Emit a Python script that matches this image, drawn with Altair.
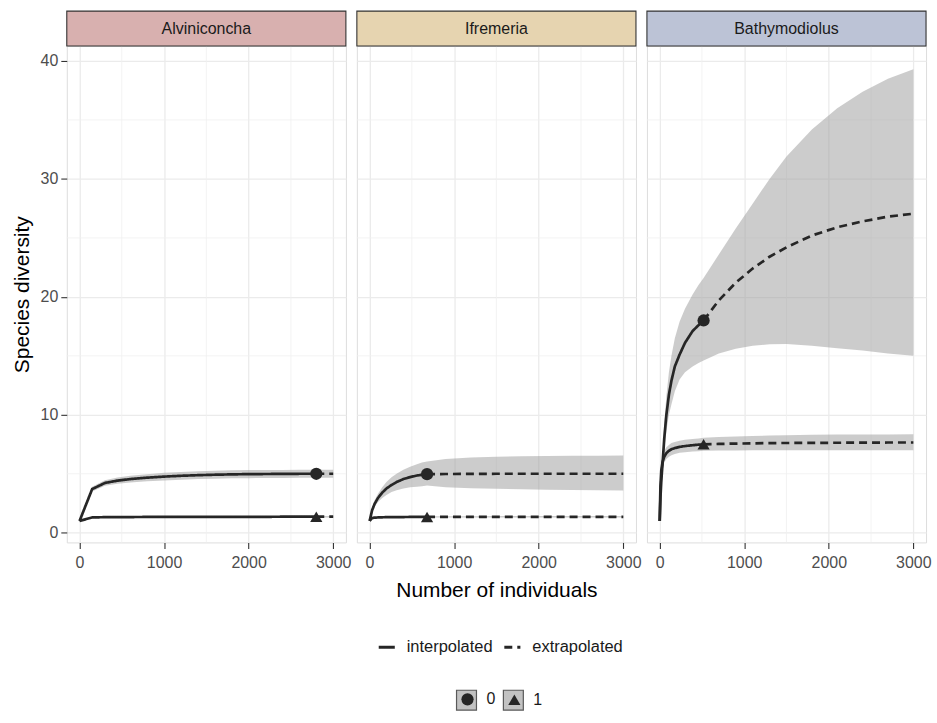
import altair as alt
import pandas as pd

# ---------------- data ----------------
SITES = ["Alviniconcha", "Ifremeria", "Bathymodiolus"]
STRIP_FILL = ["#d8b0af", "#e6d4b0", "#bcc3d6"]

x_major = [0, 1000, 2000, 3000]
x_minor = [500, 1500, 2500]
y_major = [0, 10, 20, 30, 40]
y_minor = [5, 15, 25, 35]
orders = ["0", "1"]
methods = ["interpolated", "extrapolated"]

# Alviniconcha
alv_m_int = [1, 150, 300, 450, 600, 800, 1000, 1200, 1400, 1600, 1800, 2000, 2200, 2400, 2600, 2800]
alv_q0_int = [1.0, 3.7, 4.22, 4.42, 4.55, 4.67, 4.76, 4.83, 4.88, 4.92, 4.95, 4.97, 4.98, 4.99, 5.0, 5.0]
alv_q0_int_lo = [1.0, 3.5, 3.98, 4.16, 4.27, 4.37, 4.44, 4.5, 4.55, 4.58, 4.61, 4.63, 4.64, 4.65, 4.66, 4.66]
alv_q0_int_hi = [1.0, 3.9, 4.46, 4.68, 4.83, 4.97, 5.08, 5.16, 5.21, 5.26, 5.29, 5.31, 5.32, 5.33, 5.34, 5.34]
alv_q1_int = [1.0, 1.3, 1.32, 1.33, 1.33, 1.34, 1.34, 1.34, 1.35, 1.35, 1.35, 1.35, 1.35, 1.36, 1.36, 1.36]
alv_q1_int_lo = [1.0, 1.24, 1.26, 1.27, 1.27, 1.28, 1.28, 1.28, 1.29, 1.29, 1.29, 1.29, 1.29, 1.3, 1.3, 1.3]
alv_q1_int_hi = [1.0, 1.36, 1.38, 1.39, 1.39, 1.4, 1.4, 1.4, 1.41, 1.41, 1.41, 1.41, 1.41, 1.42, 1.42, 1.42]
alv_m_ext = [2800, 2900, 3000]
alv_q0_ext = [5.0, 5.0, 5.0]
alv_q0_ext_lo = [4.66, 4.66, 4.66]
alv_q0_ext_hi = [5.34, 5.35, 5.35]
alv_q1_ext = [1.36, 1.36, 1.36]
alv_q1_ext_lo = [1.3, 1.3, 1.3]
alv_q1_ext_hi = [1.42, 1.42, 1.42]

# Ifremeria
ifr_m_int = [1, 30, 60, 100, 150, 200, 260, 320, 400, 480, 560, 620, 680]
ifr_q0_int = [1.0, 1.9, 2.45, 2.95, 3.4, 3.75, 4.05, 4.3, 4.55, 4.72, 4.85, 4.92, 4.97]
ifr_q0_int_lo = [1.0, 1.7, 2.2, 2.6, 2.95, 3.2, 3.45, 3.6, 3.75, 3.85, 3.9, 3.95, 4.0]
ifr_q0_int_hi = [1.0, 2.1, 2.75, 3.3, 3.85, 4.3, 4.7, 5.0, 5.35, 5.6, 5.8, 5.95, 6.05]
ifr_q1_int = [1.0, 1.25, 1.28, 1.3, 1.31, 1.32, 1.32, 1.33, 1.33, 1.34, 1.34, 1.34, 1.34]
ifr_q1_int_lo = [1.0, 1.2, 1.23, 1.25, 1.26, 1.27, 1.27, 1.28, 1.28, 1.29, 1.29, 1.29, 1.29]
ifr_q1_int_hi = [1.0, 1.3, 1.33, 1.35, 1.36, 1.37, 1.37, 1.38, 1.38, 1.39, 1.39, 1.39, 1.39]
ifr_m_ext = [680, 900, 1200, 1500, 1800, 2100, 2400, 2700, 3000]
ifr_q0_ext = [4.97, 4.98, 4.99, 5.0, 5.0, 5.0, 5.0, 5.0, 5.0]
ifr_q0_ext_lo = [4.0, 3.85, 3.77, 3.73, 3.68, 3.65, 3.62, 3.6, 3.58]
ifr_q0_ext_hi = [6.05, 6.25, 6.38, 6.45, 6.48, 6.5, 6.52, 6.53, 6.54]
ifr_q1_ext = [1.34, 1.34, 1.35, 1.35, 1.35, 1.35, 1.35, 1.35, 1.35]
ifr_q1_ext_lo = [1.29, 1.29, 1.29, 1.29, 1.29, 1.29, 1.29, 1.29, 1.29]
ifr_q1_ext_hi = [1.39, 1.4, 1.4, 1.41, 1.41, 1.41, 1.41, 1.41, 1.41]

# Bathymodiolus
bat_m_int = [1, 10, 20, 35, 55, 80, 110, 140, 180, 236, 300, 390, 460, 520]
bat_q0_int = [1.0, 3.0, 4.4, 5.9, 8.0, 10.0, 11.7, 12.9, 14.1, 15.1, 16.1, 17.1, 17.6, 18.0]
bat_q0_int_lo = [1.0, 2.8, 4.0, 5.3, 7.0, 8.6, 10.0, 10.9, 12.0, 13.0, 13.6, 14.1, 14.4, 14.6]
bat_q0_int_hi = [1.0, 3.3, 5.0, 6.8, 9.2, 11.6, 13.6, 15.0, 16.5, 17.9, 19.0, 20.2, 21.0, 21.6]
bat_q1_int = [1.0, 4.0, 5.3, 6.0, 6.45, 6.75, 6.95, 7.08, 7.18, 7.28, 7.35, 7.42, 7.47, 7.5]
bat_q1_int_lo = [1.0, 3.6, 4.8, 5.5, 5.95, 6.25, 6.45, 6.58, 6.68, 6.78, 6.83, 6.88, 6.92, 6.95]
bat_q1_int_hi = [1.0, 4.4, 5.8, 6.5, 6.95, 7.25, 7.45, 7.6, 7.7, 7.8, 7.88, 7.95, 8.0, 8.05]
bat_m_ext = [520, 700, 900, 1100, 1300, 1500, 1800, 2100, 2400, 2700, 3000]
bat_q0_ext = [18.0, 19.7, 21.2, 22.4, 23.4, 24.2, 25.2, 25.9, 26.4, 26.8, 27.05]
bat_q0_ext_lo = [14.6, 15.2, 15.6, 15.85, 15.98, 16.0, 15.85, 15.65, 15.45, 15.2, 15.0]
bat_q0_ext_hi = [21.6, 23.6, 25.8, 27.9, 30.0, 31.9, 34.2, 36.0, 37.4, 38.5, 39.3]
bat_q1_ext = [7.5, 7.53, 7.56, 7.58, 7.6, 7.61, 7.62, 7.63, 7.64, 7.65, 7.65]
bat_q1_ext_lo = [6.95, 6.97, 6.98, 6.99, 7.0, 7.0, 7.0, 7.0, 7.0, 7.0, 7.0]
bat_q1_ext_hi = [8.05, 8.12, 8.17, 8.21, 8.24, 8.27, 8.3, 8.32, 8.33, 8.34, 8.35]

SITE_DATA = {
    "Alviniconcha": (alv_m_int, alv_m_ext,
                     {"0": (alv_q0_int, alv_q0_int_lo, alv_q0_int_hi, alv_q0_ext, alv_q0_ext_lo, alv_q0_ext_hi),
                      "1": (alv_q1_int, alv_q1_int_lo, alv_q1_int_hi, alv_q1_ext, alv_q1_ext_lo, alv_q1_ext_hi)}),
    "Ifremeria": (ifr_m_int, ifr_m_ext,
                  {"0": (ifr_q0_int, ifr_q0_int_lo, ifr_q0_int_hi, ifr_q0_ext, ifr_q0_ext_lo, ifr_q0_ext_hi),
                   "1": (ifr_q1_int, ifr_q1_int_lo, ifr_q1_int_hi, ifr_q1_ext, ifr_q1_ext_lo, ifr_q1_ext_hi)}),
    "Bathymodiolus": (bat_m_int, bat_m_ext,
                      {"0": (bat_q0_int, bat_q0_int_lo, bat_q0_int_hi, bat_q0_ext, bat_q0_ext_lo, bat_q0_ext_hi),
                       "1": (bat_q1_int, bat_q1_int_lo, bat_q1_int_hi, bat_q1_ext, bat_q1_ext_lo, bat_q1_ext_hi)}),
}

# ---------------- style ----------------
W, H = 280, 498
STRIP_H = 35
FONT = "Liberation Sans"
INK = "#262626"
X_DOMAIN = [-150, 3150]
Y_DOMAIN = [-0.82, 41.27]

LEG1_X, LEG1_Y = 311, 593
LEG2_X, LEG2_Y = 394, 647


def frames(site):
    m_int, m_ext, ords = SITE_DATA[site]
    line_rows, band_rows, pt_rows = [], [], []
    for order, (vi, li, hi, ve, le, he) in ords.items():
        for m, v in zip(m_int, vi):
            line_rows.append({"m": m, "v": v, "order": order, "method": methods[0], "seg": order + "i"})
        for m, v in zip(m_ext, ve):
            line_rows.append({"m": m, "v": v, "order": order, "method": methods[1], "seg": order + "e"})
        for m, lo, hi_ in zip(m_int, li, hi):
            band_rows.append({"m": m, "lo": lo, "hi": hi_, "order": order})
        for m, lo, hi_ in list(zip(m_ext, le, he))[1:]:
            band_rows.append({"m": m, "lo": lo, "hi": hi_, "order": order})
        pt_rows.append({"m": m_int[-1], "v": vi[-1], "order": order})
    return pd.DataFrame(line_rows), pd.DataFrame(band_rows), pd.DataFrame(pt_rows)


def panel(idx):
    site = SITES[idx]
    lines, band, pts = frames(site)

    xaxis = alt.Axis(values=x_major, format="d", title="Number of individuals" if idx == 1 else None,
                     grid=True, gridColor="#ebebeb", gridWidth=1.3, domain=False,
                     tickColor="#333333", tickSize=6, tickWidth=1.1,
                     labelFontSize=16, labelColor="#4d4d4d", labelPadding=6, labelFont=FONT,
                     titleFontSize=21, titleFontWeight="normal", titleColor="#000000", titleFont=FONT,
                     titlePadding=9)
    if idx == 0:
        yaxis = alt.Axis(values=y_major, format="d", title="Species diversity",
                         grid=True, gridColor="#ebebeb", gridWidth=1.3, domain=False,
                         tickColor="#333333", tickSize=6, tickWidth=1.1,
                         labelFontSize=16, labelColor="#4d4d4d", labelPadding=3, labelFont=FONT,
                         titleFontSize=21, titleFontWeight="normal", titleColor="#000000", titleFont=FONT,
                         titlePadding=8)
    else:
        yaxis = alt.Axis(values=y_major, title=None, labels=False, ticks=False, domain=False,
                         grid=True, gridColor="#ebebeb", gridWidth=1.3)

    xs = alt.Scale(domain=X_DOMAIN, nice=False, zero=False)
    ys = alt.Scale(domain=Y_DOMAIN, nice=False, zero=False)

    gx = alt.Chart(pd.DataFrame({"g": x_minor})).mark_rule(color="#f0f0f0", strokeWidth=0.8).encode(
        x=alt.X("g:Q", scale=xs, axis=xaxis))
    gy = alt.Chart(pd.DataFrame({"g": y_minor})).mark_rule(color="#f0f0f0", strokeWidth=0.8).encode(
        y=alt.Y("g:Q", scale=ys, axis=yaxis))

    area = alt.Chart(band).mark_area(color="#999999", opacity=0.5).encode(
        x=alt.X("m:Q", scale=xs, axis=xaxis),
        y=alt.Y("lo:Q", scale=ys, axis=yaxis),
        y2="hi:Q",
        detail="order:N",
    )

    line = alt.Chart(lines).mark_line(color=INK, strokeWidth=2.7).encode(
        x=alt.X("m:Q", scale=xs, axis=xaxis),
        y=alt.Y("v:Q", scale=ys, axis=yaxis),
        detail="seg:N",
        strokeDash=alt.StrokeDash(
            "method:N",
            scale=alt.Scale(domain=methods, range=[[1, 0], [8, 5]]),
            legend=alt.Legend(title=None, orient="none", legendX=LEG1_X, legendY=LEG1_Y, direction="horizontal",
                              symbolType="stroke", symbolStrokeWidth=3, symbolSize=260,
                              symbolStrokeColor=INK, labelFontSize=16.5, labelColor="#1a1a1a",
                              labelFont=FONT, columnPadding=4, labelOffset=10),
        ),
    )

    # grey legend key boxes (ggplot draws the ribbon fill behind each shape key)
    keys = alt.Chart(pts).mark_square(opacity=0, size=1).encode(
        x=alt.X("m:Q", scale=xs, axis=xaxis),
        y=alt.Y("v:Q", scale=ys, axis=yaxis),
        color=alt.Color("order:N", scale=alt.Scale(range=["#c2c2c2", "#c2c2c2"]),
                        legend=alt.Legend(title=None, orient="none", legendX=LEG2_X - 4, legendY=LEG2_Y - 2,
                                          direction="horizontal", symbolType="square", symbolSize=400,
                                          symbolOpacity=1, symbolStrokeColor="#595959", symbolStrokeWidth=1.2,
                                          labelExpr="''", labelFontSize=16, labelFont=FONT,
                                          columnPadding=21, labelOffset=0, zindex=1)),
    )

    points = alt.Chart(pts).mark_point(filled=True, size=150, color=INK, opacity=1).encode(
        x=alt.X("m:Q", scale=xs, axis=xaxis),
        y=alt.Y("v:Q", scale=ys, axis=yaxis),
        shape=alt.Shape(
            "order:N",
            scale=alt.Scale(domain=orders, range=["circle", "triangle-up"]),
            legend=alt.Legend(title=None, orient="none", legendX=LEG2_X, legendY=LEG2_Y, direction="horizontal",
                              symbolSize=150, symbolFillColor=INK, symbolStrokeColor=INK,
                              labelFontSize=16, labelColor="#1a1a1a", labelFont=FONT,
                              columnPadding=9, labelOffset=11, zindex=2),
        ),
    )

    sdf = pd.DataFrame({"site": [site]})
    strip = alt.Chart(sdf).mark_rect(fill=STRIP_FILL[idx], stroke="#333333", strokeWidth=1.1).encode(
        x=alt.value(0), x2=alt.value(W), y=alt.value(-STRIP_H), y2=alt.value(0))
    strip_txt = alt.Chart(sdf).mark_text(fontSize=16, font=FONT, color="#1a1a1a", baseline="middle").encode(
        x=alt.value(W / 2), y=alt.value(-STRIP_H / 2), text="site:N")

    return alt.layer(gx, gy, area, line, keys, points, strip, strip_txt).properties(width=W, height=H)


chart = alt.hconcat(panel(0), panel(1), panel(2), spacing=3).properties(
    padding={"left": 10, "top": 8, "right": 5, "bottom": 5}
).configure_view(stroke="#333333", strokeWidth=1.1).configure(font=FONT)

chart.save("out.html", embed_options={"renderer": "svg", "actions": False})
